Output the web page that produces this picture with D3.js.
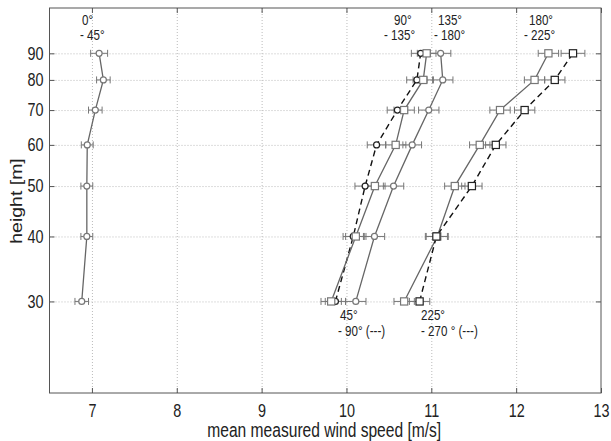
<!DOCTYPE html>
<html><head><meta charset="utf-8">
<script src="https://cdn.jsdelivr.net/npm/d3@7"></script>
<style>body{margin:0;background:#fff} text{font-family:"Liberation Sans",Arial,sans-serif}</style>
</head><body><svg id="c" width="611" height="441"></svg>
<script>
const heights = [30, 40, 50, 60, 70, 80, 90];
const xTicks = [7, 8, 9, 10, 11, 12, 13];
const yTicks = [30, 40, 50, 60, 70, 80, 90];
const xLabel = "mean measured wind speed [m/s]";
const yLabel = "height [m]";

const v0_45    = [6.88, 6.94, 6.94, 6.945, 7.04, 7.135, 7.085];
const v45_90   = [9.87, 10.08, 10.22, 10.355, 10.60, 10.83, 10.875];
const v90_135  = [9.82, 10.11, 10.335, 10.58, 10.68, 10.905, 10.945];
const v135_180 = [10.11, 10.33, 10.555, 10.775, 10.97, 11.135, 11.11];
const v180_225 = [10.68, 11.07, 11.277, 11.571, 11.81, 12.217, 12.38];
const v225_270 = [10.862, 11.06, 11.478, 11.76, 12.10, 12.455, 12.67];

const e0_45    = [0.08, 0.07, 0.07, 0.07, 0.08, 0.08, 0.10];
const e45_90   = [0.12, 0.12, 0.12, 0.11, 0.12, 0.12, 0.11];
const e90_135  = [0.12, 0.12, 0.12, 0.12, 0.12, 0.12, 0.11];
const e135_180 = [0.12, 0.12, 0.12, 0.11, 0.12, 0.12, 0.12];
const e180_225 = [0.12, 0.13, 0.12, 0.12, 0.12, 0.12, 0.12];
const e225_270 = [0.12, 0.13, 0.12, 0.12, 0.12, 0.12, 0.14];

const series = [
  {values: v0_45,    err: e0_45,    marker: "circle", dashed: false},
  {values: v45_90,   err: e45_90,   marker: "circle", dashed: true},
  {values: v90_135,  err: e90_135,  marker: "square", dashed: false},
  {values: v135_180, err: e135_180, marker: "circle", dashed: false},
  {values: v180_225, err: e180_225, marker: "square", dashed: false},
  {values: v225_270, err: e225_270, marker: "square", dashed: true}
];

const annotations = [
  {t: "0°", x: 82, y: 24.5}, {t: "- 45°", x: 80, y: 40},
  {t: "90°", x: 394, y: 24.5}, {t: "- 135°", x: 384, y: 40},
  {t: "135°", x: 438, y: 24.5}, {t: "- 180°", x: 434, y: 40},
  {t: "180°", x: 529, y: 24.5}, {t: "- 225°", x: 524, y: 40},
  {t: "45°", x: 340, y: 320}, {t: "- 90° (---)", x: 338, y: 336},
  {t: "225°", x: 421, y: 320}, {t: "- 270 ° (---)", x: 421, y: 336}
];

const L = 49.5, R = 601, T = 8, B = 393;
const SX = 0.8;
const svg = d3.select("#c");
const x = d3.scaleLinear([6.5, 13], [L, R]);
const y = d3.scaleLog([20, 110], [B, T]);

// grid
svg.append("g").attr("transform", `translate(0,${B})`)
  .call(d3.axisBottom(x).tickValues(xTicks.filter(d => d < 13)).tickSize(-(B - T)).tickFormat(""))
  .call(g => g.select(".domain").remove())
  .selectAll("line").attr("stroke", "#bbb").attr("stroke-dasharray", "1,2");
svg.append("g").attr("transform", `translate(${L},0)`)
  .call(d3.axisLeft(y).tickValues(yTicks).tickSize(-(R - L)).tickFormat(""))
  .call(g => g.select(".domain").remove())
  .selectAll("line").attr("stroke", "#bbb").attr("stroke-dasharray", "1,2");

// frame
svg.append("rect").attr("x", L).attr("y", T).attr("width", R - L).attr("height", B - T)
  .attr("fill", "none").attr("stroke", "#555").attr("stroke-width", 1);

// axes
const fmt = d3.format("d");
const gl = svg.append("g").attr("transform", `translate(${L},0)`)
  .call(d3.axisLeft(y).tickValues(yTicks).tickFormat(fmt).tickSize(-5).tickPadding(7.5));
const gr = svg.append("g").attr("transform", `translate(${R},0)`)
  .call(d3.axisRight(y).tickValues(yTicks).tickFormat("").tickSize(-5));
const gb = svg.append("g").attr("transform", `translate(0,${B})`)
  .call(d3.axisBottom(x).tickValues(xTicks).tickFormat(fmt).tickSize(-5).tickPadding(11.5));
const gt = svg.append("g").attr("transform", `translate(0,${T})`)
  .call(d3.axisTop(x).tickValues(xTicks).tickFormat("").tickSize(-5));
[gl, gr, gb, gt].forEach(g => {
  g.select(".domain").remove();
  g.selectAll("line").attr("stroke", "#555");
  g.selectAll("text").attr("font-size", 18).attr("fill", "#222")
    .attr("font-family", "Liberation Sans, Arial, sans-serif")
    .attr("transform", `scale(${SX},1)`);
});

// axis labels
svg.append("text").attr("transform", `translate(${(L + R) / 2 - 1},437) scale(${SX},1)`)
  .attr("text-anchor", "middle").attr("font-size", 19.5).attr("fill", "#222").text(xLabel);
svg.append("text").attr("transform", `translate(22,201) scale(${SX},1) rotate(-90)`)
  .attr("text-anchor", "middle").attr("font-size", 19.5).attr("fill", "#222").text(yLabel);

// error bars
series.forEach(s => {
  const g = svg.append("g").attr("stroke", "#777").attr("stroke-width", 1);
  s.values.forEach((v, i) => {
    const yy = y(heights[i]), x0 = x(v - s.err[i]), x1 = x(v + s.err[i]);
    g.append("line").attr("x1", x0).attr("x2", x1).attr("y1", yy).attr("y2", yy);
    g.append("line").attr("x1", x0).attr("x2", x0).attr("y1", yy - 3.5).attr("y2", yy + 3.5);
    g.append("line").attr("x1", x1).attr("x2", x1).attr("y1", yy - 3.5).attr("y2", yy + 3.5);
  });
});

// lines
const line = d3.line().x(d => x(d.v)).y(d => y(d.h));
series.forEach(s => {
  const pts = s.values.map((v, i) => ({v, h: heights[i]}));
  svg.append("path").datum(pts).attr("d", line).attr("fill", "none")
    .attr("stroke", s.dashed ? "#111" : "#666")
    .attr("stroke-width", s.dashed ? 1.4 : 1.3)
    .attr("stroke-dasharray", s.dashed ? "6,4" : null);
});

// markers
series.forEach(s => {
  const col = s.dashed ? "#222" : "#777";
  s.values.forEach((v, i) => {
    const cx = x(v), cy = y(heights[i]);
    if (s.marker === "circle") {
      svg.append("circle").attr("cx", cx).attr("cy", cy).attr("r", 3)
        .attr("fill", "#fff").attr("stroke", col).attr("stroke-width", 1.2);
    } else {
      svg.append("rect").attr("x", cx - 3.6).attr("y", cy - 3.6).attr("width", 7.2).attr("height", 7.2)
        .attr("fill", "#fff").attr("stroke", col).attr("stroke-width", 1.2);
    }
  });
});

// annotations
annotations.forEach(a => {
  svg.append("text").attr("transform", `translate(${a.x},${a.y}) scale(${SX},1)`)
    .attr("font-size", 14.5).attr("fill", "#222").text(a.t);
});
</script></body></html>
